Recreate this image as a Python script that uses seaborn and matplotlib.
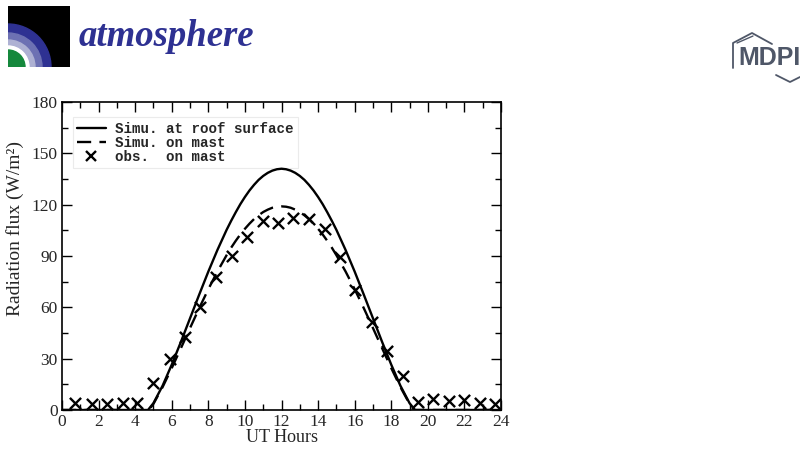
import numpy as np
import pandas as pd
import matplotlib
matplotlib.use("Agg")
import matplotlib.pyplot as plt
from matplotlib.patches import Wedge, Rectangle
from matplotlib.lines import Line2D
import seaborn as sns

# Simulated radiation flux at the roof surface (W/m2) vs UT hour
roof_hours = [0, 4.5, 4.7, 5.0, 5.5, 6.0, 6.5, 7.0, 7.5, 8.0, 8.5, 9.0, 9.25, 9.5, 9.75,
              10.0, 10.25, 10.5, 10.75, 11.0, 11.25, 11.5, 11.75, 12.0, 12.25, 12.5, 12.75,
              13.0, 13.25, 13.5, 13.75, 14.0, 14.25, 14.5, 14.75, 15.0, 15.5, 16.0, 16.5,
              17.0, 17.5, 18.0, 18.5, 19.0, 19.3, 24]
roof_flux = [0, 0, 0, 4.0, 14.2, 26.5, 39.8, 53.6, 67.4, 80.9, 93.6, 105.3, 110.6, 115.6, 120.3,
             124.5, 128.3, 131.6, 134.5, 136.8, 138.6, 139.9, 140.7, 141.0, 140.7, 139.9, 138.6,
             136.8, 134.5, 131.6, 128.3, 124.5, 120.3, 115.6, 110.6, 105.3, 93.6, 80.9, 67.4,
             53.6, 39.8, 26.5, 14.2, 4.0, 0, 0]

# Simulated radiation flux on the mast
mast_hours = [0, 4.5, 4.75, 5.0, 5.5, 6.0, 6.5, 7.0, 7.5, 8.0, 8.5, 9.0, 9.25, 9.5, 9.75,
              10.0, 10.25, 10.5, 10.75, 11.0, 11.25, 11.5, 11.75, 12.0, 12.25, 12.5, 12.75,
              13.0, 13.25, 13.5, 13.75, 14.0, 14.25, 14.5, 14.75, 15.0, 15.5, 16.0, 16.5,
              17.0, 17.5, 18.0, 18.5, 19.0, 19.25, 24]
mast_flux = [0, 0, 0, 3.6, 13.4, 24.5, 36.1, 47.9, 59.5, 70.6, 81.0, 90.5, 94.9, 98.9, 102.6,
             105.9, 108.9, 111.6, 113.8, 115.7, 117.1, 118.2, 118.8, 119.0, 118.8, 118.2, 117.1,
             115.7, 113.8, 111.6, 108.9, 105.9, 102.6, 98.9, 94.9, 90.5, 81.0, 70.6, 59.5,
             47.9, 36.1, 24.5, 13.4, 3.6, 0, 0]

# Observations on the mast
obs_hours = [0.71, 1.62, 2.44, 3.32, 4.12, 4.99, 5.9, 6.72, 7.55, 8.42, 9.28, 10.1, 10.97,
             11.83, 12.65, 13.52, 14.38, 15.2, 16.02, 16.93, 17.79, 18.63, 19.48, 20.3,
             21.18, 21.98, 22.85, 23.67]
obs_flux = [4.3, 3.5, 3.5, 3.9, 4.3, 15.6, 29.8, 42.8, 60.4, 77.9, 90.0, 101.3, 110.3,
            109.5, 112.4, 111.6, 105.6, 89.6, 70.1, 51.6, 34.7, 19.9, 4.9, 6.2, 5.3, 5.8,
            4.3, 3.5]

x_ticks = list(range(0, 25, 2))
y_ticks = list(range(0, 181, 30))
series_labels = ["Simu. at roof surface", "Simu. on mast", "obs.  on mast"]

sns.set_style("ticks")
plt.rcParams["font.family"] = ["Liberation Serif", "DejaVu Serif"]

fig = plt.figure(figsize=(8.0, 4.49), dpi=100)
W, H = 800, 449


def fig_rect(x0, y0, x1, y1):
    return [x0 / W, 1 - y1 / H, (x1 - x0) / W, (y1 - y0) / H]


ax = fig.add_axes(fig_rect(62, 102, 501, 410))

roof_df = pd.DataFrame({"hour": roof_hours, "flux": roof_flux})
mast_df = pd.DataFrame({"hour": mast_hours, "flux": mast_flux})
obs_df = pd.DataFrame({"hour": obs_hours, "flux": obs_flux})

sns.lineplot(data=roof_df, x="hour", y="flux", ax=ax, color="black", lw=1.7,
             sort=False, estimator=None)
sns.lineplot(data=mast_df, x="hour", y="flux", ax=ax, color="black", lw=1.7,
             sort=False, estimator=None)
ax.lines[-1].set_dashes([6, 3.5])
sns.scatterplot(data=obs_df, x="hour", y="flux", ax=ax, marker="x", color="black",
                s=65, linewidth=1.7, zorder=5)

ax.set_xlim(0, 24)
ax.set_ylim(0, 180)
ax.set_xticks(x_ticks)
ax.set_xticks(range(0, 25), minor=True)
ax.set_yticks(y_ticks)
ax.set_yticks(range(0, 181, 15), minor=True)
ax.tick_params(which="both", direction="in", top=True, right=True, labelsize=12.5,
               color="black", pad=3)
ax.tick_params(which="major", length=7, width=1.0)
ax.tick_params(which="minor", length=4, width=1.0)
for sp in ax.spines.values():
    sp.set_linewidth(1.2)
    sp.set_color("black")
ax.set_xlabel("UT Hours", fontsize=13, labelpad=-1)
ax.set_ylabel("Radiation flux (W/m²)", fontsize=14)
ax.yaxis.set_label_coords(-0.087, 0.59)

handles = [
    Line2D([], [], color="black", lw=1.7),
    Line2D([], [], color="black", lw=1.7, dashes=[6, 3.5]),
    Line2D([], [], color="black", lw=0, marker="x", markersize=7.5, markeredgewidth=1.7),
]
leg = ax.legend(handles, series_labels, loc="upper left", bbox_to_anchor=(0.025, 0.95),
                prop={"family": ["Liberation Mono", "DejaVu Sans Mono"], "size": 10.2,
                      "weight": "bold"},
                frameon=True, fancybox=False, handlelength=2.0, handletextpad=0.7,
                labelspacing=0.0, borderpad=0.3, borderaxespad=0)
leg.get_frame().set_edgecolor("#e6e6e6")
leg.get_frame().set_linewidth(0.8)
leg.set_zorder(1)

# Journal badge: quarter-circle emblem on a black square
badge = fig.add_axes(fig_rect(8, 6, 70, 67))
badge.set_xlim(0, 62)
badge.set_ylim(0, 61)
badge.axis("off")
badge.add_patch(Rectangle((0, 0), 62, 61, color="black"))
for r, c in [(43, "#2e3192"), (34, "#6d71b3"), (27, "#aeb1d3"), (21, "white"), (17, "#15883c")]:
    badge.add_patch(Wedge((0, 0), r, 0, 90, color=c))
fig.text(79 / W, 1 - 36 / H, "atmosphere", fontsize=26.5, style="italic", weight="bold",
         color="#2e3192", va="center", ha="left",
         family=["Liberation Serif", "DejaVu Serif"])

# Publisher mark on the right edge
grey = "#4f5768"
fig.lines.append(Line2D([733 / W, 733 / W, 752 / W, 772 / W],
                        [1 - 68 / H, 1 - 43 / H, 1 - 33 / H, 1 - 44 / H],
                        transform=fig.transFigure, color=grey, lw=1.3))
fig.lines.append(Line2D([737 / W, 753 / W], [1 - 43 / H, 1 - 36 / H],
                        transform=fig.transFigure, color=grey, lw=1.0))
fig.lines.append(Line2D([776 / W, 790 / W, 800 / W], [1 - 75 / H, 1 - 82 / H, 1 - 77 / H],
                        transform=fig.transFigure, color=grey, lw=1.3))
fig.text(738 / W, 1 - 58 / H, "MDPI", fontsize=18, weight="bold", color=grey,
         va="center", ha="left", family=["Liberation Sans", "DejaVu Sans"])

fig.savefig("out.png", dpi=100)
